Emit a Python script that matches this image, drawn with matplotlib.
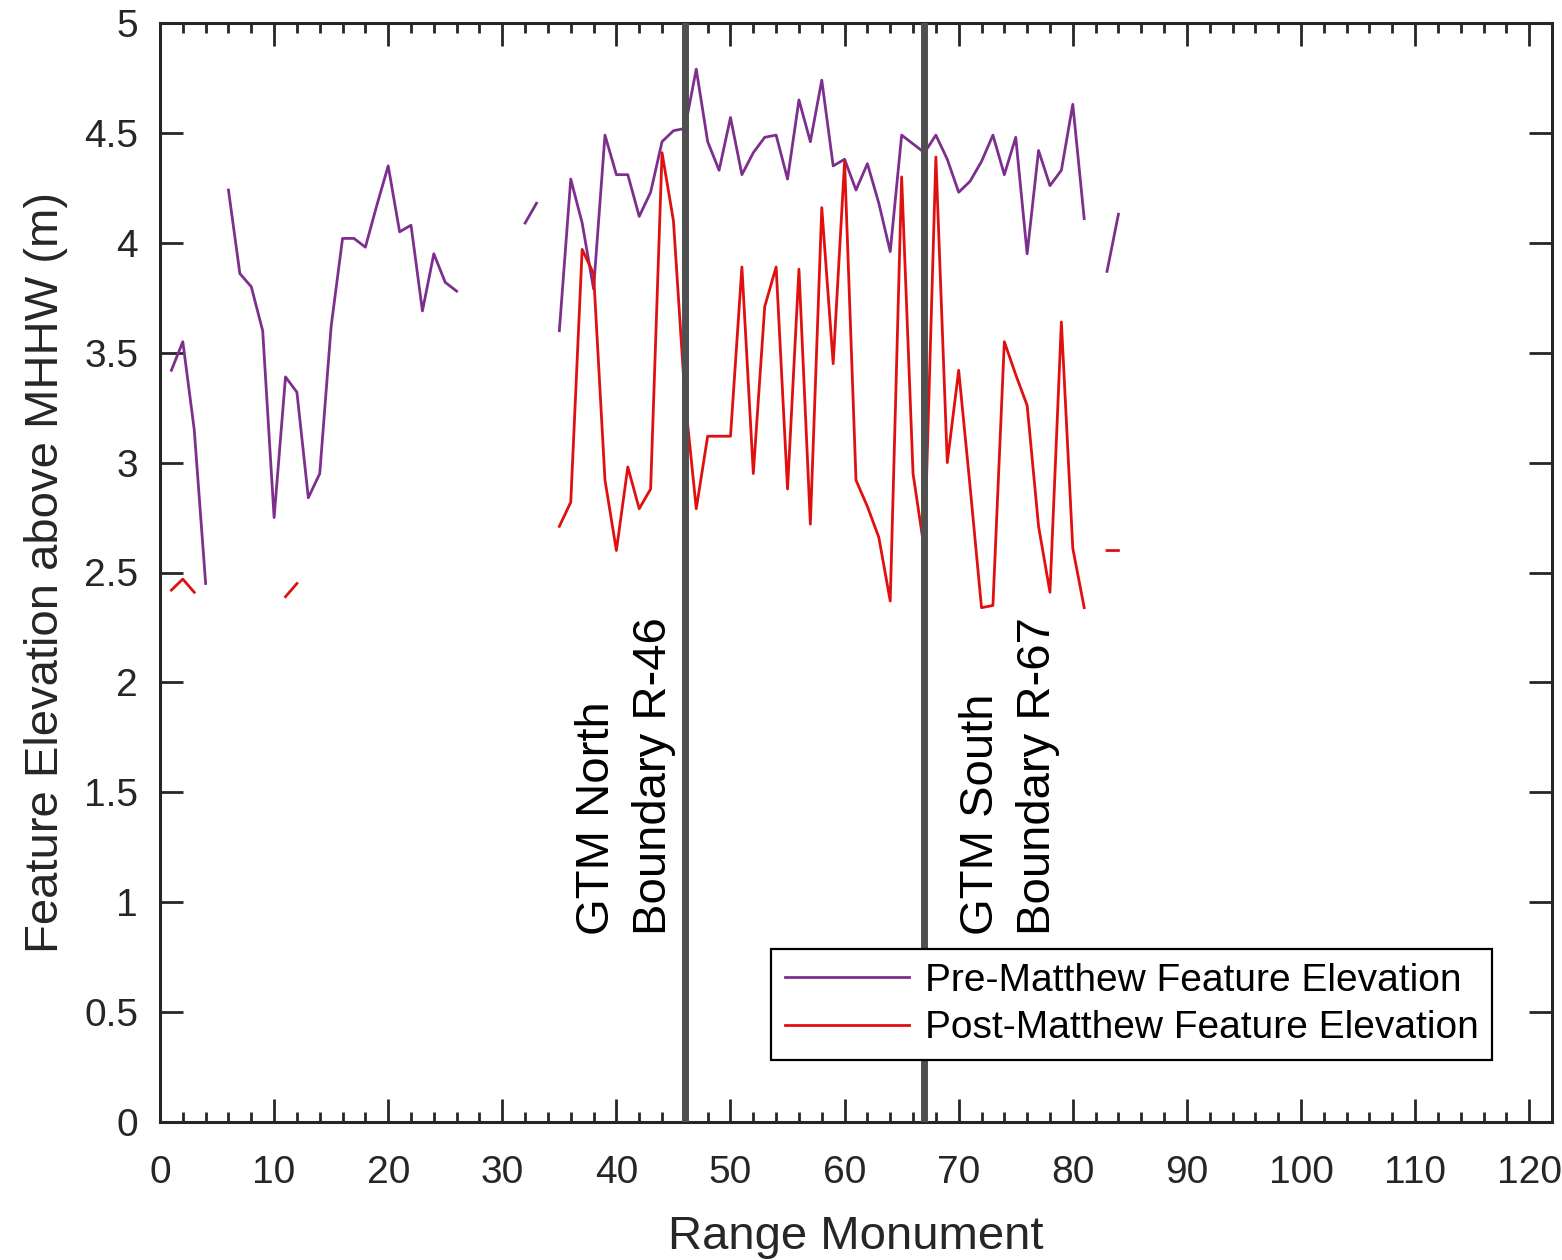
import numpy as np
import matplotlib
matplotlib.use("Agg")
import matplotlib.pyplot as plt
from matplotlib.ticker import MultipleLocator, FormatStrFormatter

nan = np.nan

# Range monuments R-1 .. R-84
monuments = list(range(1, 85))

pre_matthew = [
    3.42, 3.55, 3.15, 2.45, nan, 4.24, 3.86, 3.80, 3.60, 2.75,
    3.39, 3.32, 2.84, 2.95, 3.62, 4.02, 4.02, 3.98, 4.17, 4.35,
    4.05, 4.08, 3.69, 3.95, 3.82, 3.78, nan, nan, nan, nan,
    nan, 4.09, 4.18, nan, 3.60, 4.29, 4.09, 3.79, 4.49, 4.31,
    4.31, 4.12, 4.23, 4.46, 4.51, 4.52, 4.79, 4.46, 4.33, 4.57,
    4.31, 4.41, 4.48, 4.49, 4.29, 4.65, 4.46, 4.74, 4.35, 4.38,
    4.24, 4.36, 4.18, 3.96, 4.49, 4.45, 4.41, 4.49, 4.38, 4.23,
    4.28, 4.37, 4.49, 4.31, 4.48, 3.95, 4.42, 4.26, 4.33, 4.63,
    4.11, nan, 3.87, 4.13,
]

post_matthew = [
    2.42, 2.47, 2.41, nan, nan, nan, nan, nan, nan, nan,
    2.39, 2.45, nan, nan, nan, nan, nan, nan, nan, nan,
    nan, nan, nan, nan, nan, nan, nan, nan, nan, nan,
    nan, nan, nan, nan, 2.71, 2.82, 3.97, 3.86, 2.92, 2.60,
    2.98, 2.79, 2.88, 4.41, 4.10, 3.30, 2.79, 3.12, 3.12, 3.12,
    3.89, 2.95, 3.71, 3.89, 2.88, 3.88, 2.72, 4.16, 3.45, 4.37,
    2.92, 2.80, 2.66, 2.37, 4.30, 2.95, 2.60, 4.39, 3.00, 3.42,
    2.89, 2.34, 2.35, 3.55, 3.40, 3.26, 2.71, 2.41, 3.64, 2.61,
    2.34, nan, 2.60, 2.60,
]

boundaries = [46, 67]
boundary_labels = ["GTM North\nBoundary R-46", "GTM South\nBoundary R-67"]
series_labels = ["Pre-Matthew Feature Elevation", "Post-Matthew Feature Elevation"]

plt.rcParams['font.family'] = ['Liberation Sans', 'DejaVu Sans']
axis_color = '#262626'

W, H = 1562, 1260
fig = plt.figure(figsize=(W / 100, H / 100), dpi=100)
ax = fig.add_axes([160 / W, 1 - 1122 / H, (1552 - 160) / W, (1122 - 23) / H])

ax.plot(monuments, pre_matthew, color='#7E2F8E', lw=2.0, label=series_labels[0], zorder=3)
ax.plot(monuments, post_matthew, color='#E01010', lw=2.0, label=series_labels[1], zorder=3)

for b in boundaries:
    ax.axvline(b, color='#4f4f4f', lw=5, zorder=4)

ax.text(45.2, 0.85, boundary_labels[0], rotation=90, ha='right', va='bottom',
        fontsize=34, color='black', multialignment='left', linespacing=1.38, zorder=5)
ax.text(70.05, 0.85, boundary_labels[1], rotation=90, ha='left', va='bottom',
        fontsize=34, color='black', multialignment='left', linespacing=1.38, zorder=5)

ax.set_xlim(0, 122)
ax.set_ylim(0, 5)
ax.xaxis.set_major_locator(MultipleLocator(10))
ax.xaxis.set_minor_locator(MultipleLocator(2))
ax.yaxis.set_major_locator(MultipleLocator(0.5))
ax.xaxis.set_major_formatter(FormatStrFormatter('%g'))
ax.yaxis.set_major_formatter(FormatStrFormatter('%g'))
ax.set_xticks(np.arange(0, 121, 10))

ax.tick_params(axis='both', which='both', direction='in', top=True, right=True,
               colors=axis_color, labelsize=28)
ax.tick_params(axis='both', which='major', length=16.5, width=2)
ax.tick_params(axis='both', which='minor', length=7, width=2)
ax.tick_params(axis='x', which='major', pad=23.5)
ax.tick_params(axis='y', which='major', pad=15.8)

for s in ax.spines.values():
    s.set_linewidth(2.2)
    s.set_color(axis_color)

ax.set_xlabel('Range Monument', fontsize=34, color=axis_color)
ax.set_ylabel('Feature Elevation above MHHW (m)', fontsize=34, color=axis_color)
ax.xaxis.set_label_coords(0.5, -0.0846)
ax.yaxis.set_label_coords(-0.066, 0.5)

leg = ax.legend(loc='lower right', bbox_to_anchor=(0.9569, 0.0564), borderaxespad=0,
                fontsize=28, handlelength=3.2, handletextpad=0.4, borderpad=0.35,
                labelspacing=0.3, fancybox=False, framealpha=1, edgecolor='black')
leg.get_frame().set_linewidth(1.6)
leg.set_zorder(6)

fig.savefig('out.png', dpi=100)
